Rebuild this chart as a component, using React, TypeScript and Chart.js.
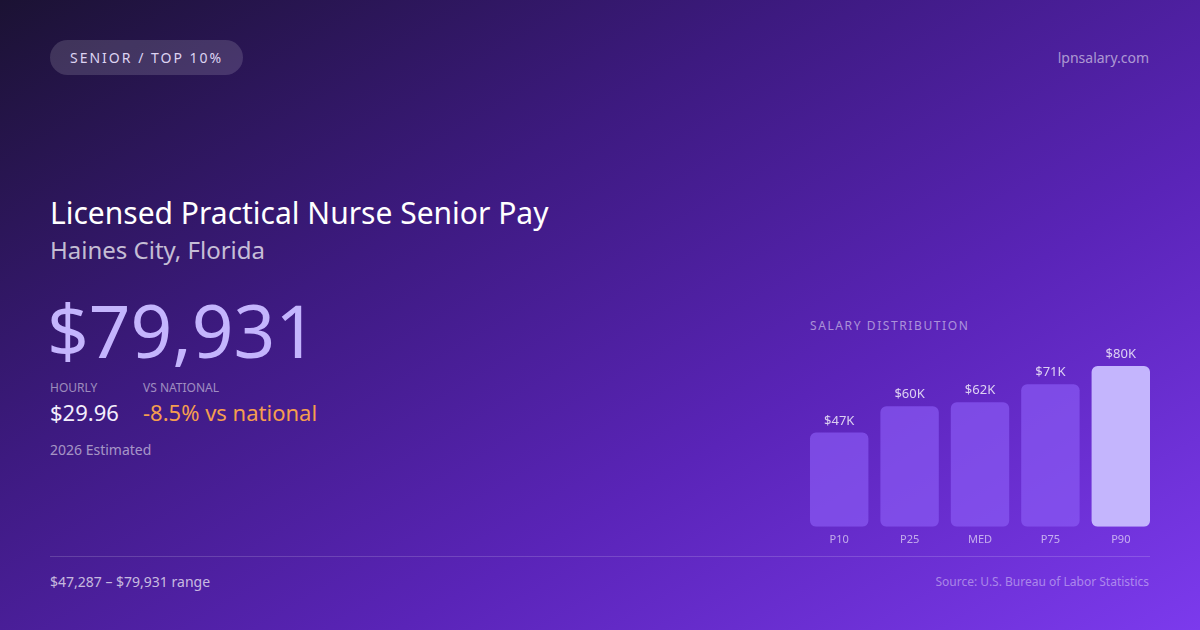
import React, { useEffect, useRef } from "react";
import { Chart, registerables } from "chart.js";

Chart.register(...registerables);

const categories = ["P10", "P25", "MED", "P75", "P90"];
const salaryK = [47, 60, 62, 71, 80];
const barLabels = ["$47K", "$60K", "$62K", "$71K", "$80K"];
const barColors = [
  "rgba(139,92,246,0.66)",
  "rgba(139,92,246,0.66)",
  "rgba(139,92,246,0.66)",
  "rgba(139,92,246,0.66)",
  "#c4b5fd",
];

const FONT = "'Noto Sans', 'Open Sans', sans-serif";

// draws the value text above each bar
const valueLabels = {
  id: "valueLabels",
  afterDatasetsDraw(chart: any) {
    const ctx = chart.ctx;
    const meta = chart.getDatasetMeta(0);
    ctx.save();
    ctx.font = `13px ${FONT}`;
    ctx.fillStyle = "rgba(255,255,255,0.78)";
    ctx.textAlign = "center";
    ctx.textBaseline = "bottom";
    meta.data.forEach((bar: any, i: number) => {
      ctx.fillText(barLabels[i], bar.x, bar.y - 5);
    });
    ctx.restore();
  },
};

const SalaryBars = () => {
  const chartRef = useRef<HTMLCanvasElement | null>(null);

  useEffect(() => {
    if (!chartRef.current) return;
    const ctx = chartRef.current.getContext("2d");
    if (!ctx) return;

    const chart = new Chart(ctx, {
      type: "bar",
      data: {
        labels: categories,
        datasets: [
          {
            data: salaryK,
            backgroundColor: barColors,
            borderRadius: 6,
            borderSkipped: false,
            barPercentage: 0.83,
            categoryPercentage: 1,
          },
        ],
      },
      options: {
        animation: false,
        responsive: false,
        maintainAspectRatio: false,
        layout: { padding: { top: 0, bottom: 6, left: 0, right: 0 } },
        plugins: {
          legend: { display: false },
          tooltip: { enabled: false },
        },
        scales: {
          x: {
            grid: { display: false, drawTicks: false },
            border: { display: false },
            ticks: {
              color: "rgba(255,255,255,0.6)",
              font: { family: FONT, size: 11 },
              padding: 6,
            },
          },
          y: {
            display: false,
            min: 0,
            max: 90,
          },
        },
      },
      plugins: [valueLabels],
    });

    return () => {
      chart.destroy();
    };
  }, []);

  return <canvas ref={chartRef} width={352} height={212} style={{ display: "block" }} />;
};

const App = () => {
  const abs = (left: number, top: number): React.CSSProperties => ({
    position: "absolute",
    left,
    top,
    whiteSpace: "nowrap",
  });

  return (
    <div
      style={{
        position: "fixed",
        inset: 0,
        width: 1200,
        height: 630,
        overflow: "hidden",
        fontFamily: FONT,
        background: "linear-gradient(150deg, #1b1233 0%, #3d1a80 35%, #5a24b8 65%, #7c3aed 100%)",
      }}
    >
      <div
        style={{
          ...abs(50, 40),
          height: 35,
          lineHeight: "35px",
          padding: "0 20px",
          borderRadius: 18,
          background: "rgba(255,255,255,0.14)",
          color: "#ddd3f2",
          fontSize: 14,
          letterSpacing: 2,
        }}
      >
        SENIOR / TOP 10%
      </div>
      <div
        style={{
          position: "absolute",
          right: 51,
          top: 48,
          fontSize: 14,
          color: "rgba(255,255,255,0.55)",
        }}
      >
        lpnsalary.com
      </div>

      <div style={{ ...abs(50, 193), fontSize: 30, color: "#ffffff", lineHeight: "40px" }}>
        Licensed Practical Nurse Senior Pay
      </div>
      <div style={{ ...abs(50, 233), fontSize: 24, color: "rgba(255,255,255,0.72)", lineHeight: "34px" }}>
        Haines City, Florida
      </div>
      <div style={{ ...abs(47, 280), fontSize: 73, color: "#c4b5fd", lineHeight: "100px" }}>
        $79,931
      </div>

      <div style={{ ...abs(50, 379), fontSize: 12, color: "rgba(255,255,255,0.5)" }}>HOURLY</div>
      <div style={{ ...abs(143, 379), fontSize: 12, color: "rgba(255,255,255,0.5)" }}>VS NATIONAL</div>
      <div style={{ ...abs(50, 397), fontSize: 22, color: "#f3eefc" }}>$29.96</div>
      <div style={{ ...abs(143, 397), fontSize: 22, color: "#f59e4f" }}>-8.5% vs national</div>
      <div style={{ ...abs(50, 440), fontSize: 14, color: "rgba(255,255,255,0.55)" }}>2026 Estimated</div>

      <div style={{ ...abs(810, 317), fontSize: 12, letterSpacing: 1.6, color: "rgba(255,255,255,0.5)" }}>
        SALARY DISTRIBUTION
      </div>
      <div style={{ position: "absolute", left: 804, top: 346 }}>
        <SalaryBars />
      </div>

      <div
        style={{
          position: "absolute",
          left: 50,
          top: 556,
          width: 1100,
          height: 1,
          background: "rgba(255,255,255,0.16)",
        }}
      />
      <div style={{ ...abs(50, 572), fontSize: 14, color: "rgba(255,255,255,0.7)" }}>
        $47,287 – $79,931 range
      </div>
      <div
        style={{
          position: "absolute",
          right: 51,
          top: 573,
          fontSize: 12,
          color: "rgba(255,255,255,0.42)",
          whiteSpace: "nowrap",
        }}
      >
        Source: U.S. Bureau of Labor Statistics
      </div>
    </div>
  );
};

export default App;
